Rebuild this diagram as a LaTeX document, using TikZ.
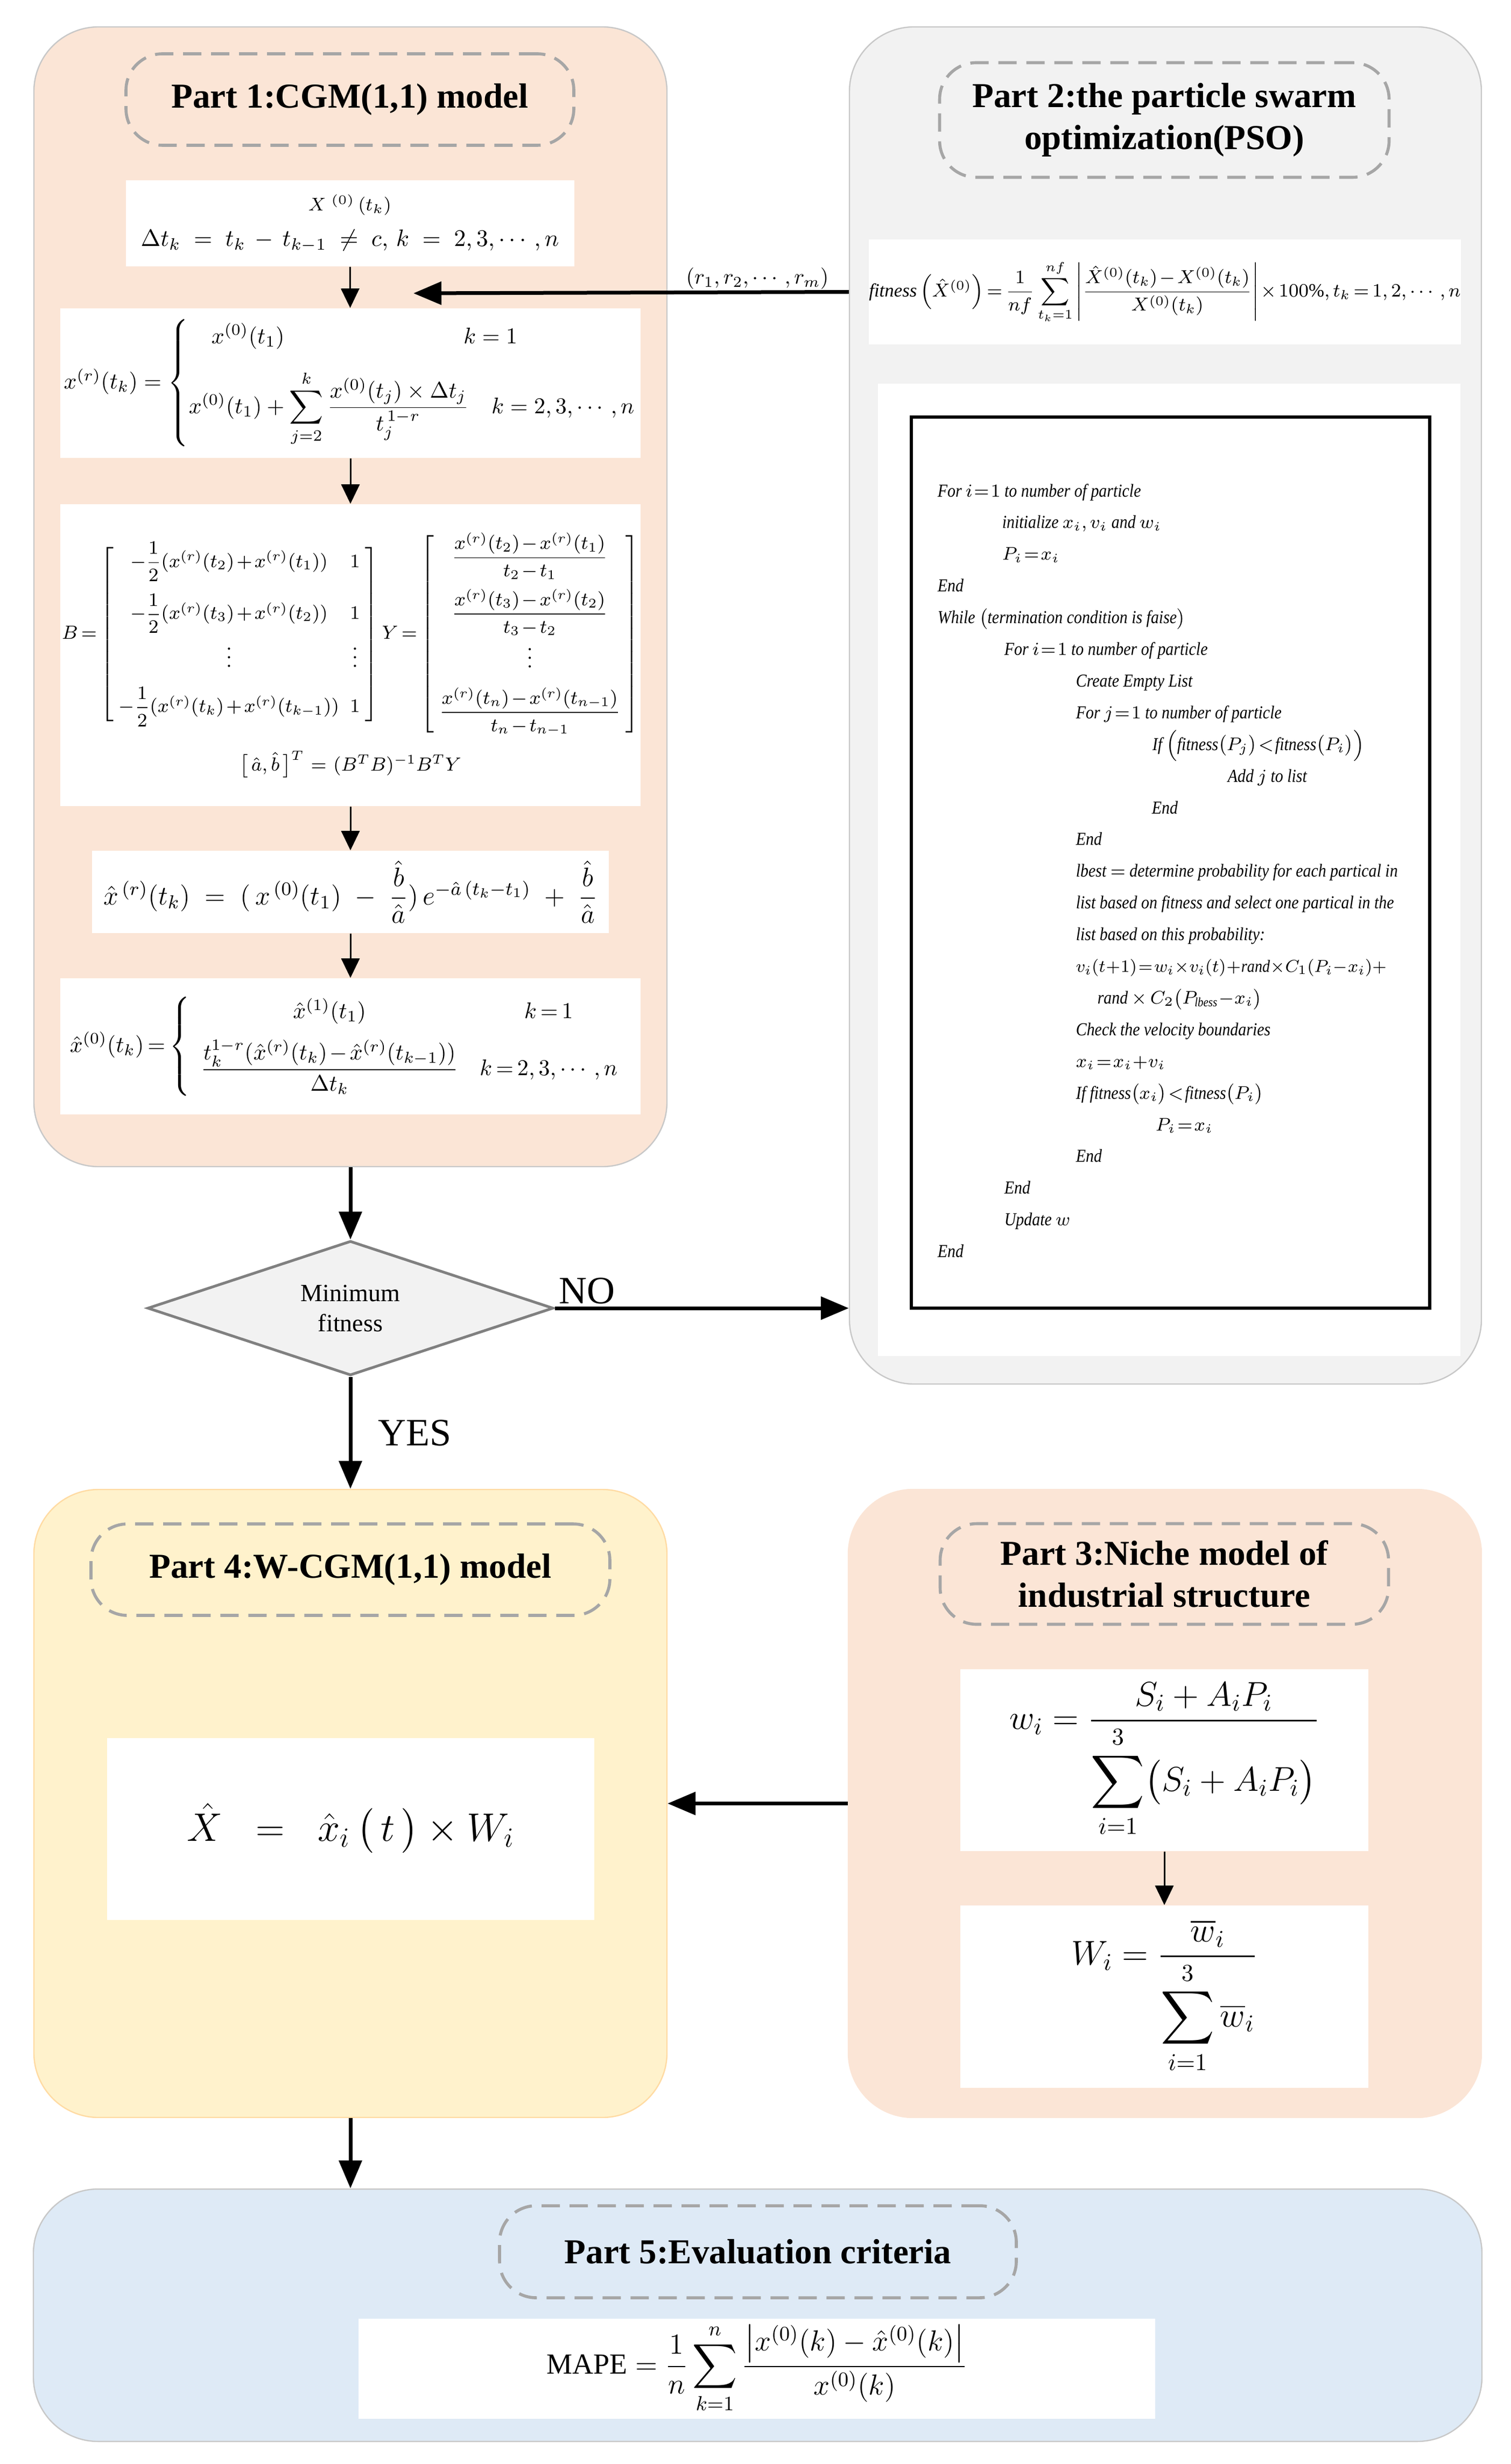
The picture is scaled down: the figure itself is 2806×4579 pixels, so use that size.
\documentclass[tikz,border=0pt]{standalone}
\usepackage{fix-cm}
\usepackage{amsmath}
\usepackage{fontspec}
\setmainfont{Liberation Serif}
\newfontfamily\codefont[FakeStretch=0.88]{Liberation Serif}
\usetikzlibrary{shapes.geometric,arrows.meta}

\definecolor{peach}{HTML}{FBE5D6}
\definecolor{panelgray}{HTML}{F2F2F2}
\definecolor{paleyellow}{HTML}{FFF2CC}
\definecolor{paleblue}{HTML}{DEEAF6}
\definecolor{dashgray}{HTML}{A6A6A6}
\definecolor{edgegray}{HTML}{C8C8C8}
\definecolor{diamondgray}{HTML}{808080}
\newcommand{\tightmath}{\medmuskip=2mu\relax\thickmuskip=3mu\relax}
\newcommand{\codemath}{\medmuskip=0.5mu\relax\thickmuskip=1.5mu\relax}

\begin{document}
\begin{tikzpicture}[x=0.25pt,y=-0.25pt,
            panel/.style={rectangle,rounded corners=30pt,draw=edgegray,line width=0.6pt,fill=#1},
            title box/.style={rectangle,rounded corners=17pt,draw=dashgray,line width=1.4pt,dash pattern=on 8.5pt off 4.5pt,align=center,font=\fontsize{16.25}{19.5}\selectfont\bfseries},
            formula box/.style={rectangle,fill=white,inner sep=0pt,align=center},
            code line/.style={anchor=base west,inner sep=0pt,font=\fontsize{8.5}{10}\selectfont\codefont\itshape\codemath},
            decision/.style={diamond,aspect=3.016,draw=diamondgray,line width=1.25pt,fill=panelgray,inner sep=0pt,minimum width=188.5pt,minimum height=62.5pt,align=center,font=\fontsize{11.5}{14}\selectfont},
            flow label/.style={inner sep=1pt,font=\fontsize{18}{21}\selectfont},
            big arrow/.style={->,>={Triangle[length=13pt,width=10.5pt]},line width=1.75pt},
            small arrow/.style={->,>={Triangle[length=9pt,width=8.5pt]},line width=0.75pt}]
            \useasboundingbox (0,0) rectangle (2806,4579);

            % the five parts
            \node[panel=peach, minimum width=294pt, minimum height=529.5pt] (p1) at (651,1109) {};
            \node[panel=panelgray, minimum width=293.5pt, minimum height=630.5pt] (p2) at (2165,1311) {};
            \node[panel=paleyellow, draw=paleyellow!80!orange, minimum width=294pt, minimum height=291.75pt] (p4) at (651,3351.5) {};
            \node[panel=peach, draw=peach, minimum width=294pt, minimum height=291.75pt] (p3) at (2164,3351.5) {};
            \node[panel=paleblue, minimum width=672.75pt, minimum height=117.25pt] (p5) at (1407.5,4302.5) {};

            \node[title box, minimum width=208pt, minimum height=42.5pt] (t1) at (650,185) {Part 1:CGM(1,1) model};
            \node[title box, minimum width=208.75pt, minimum height=53.25pt] (t2) at (2163,223) {Part 2:the particle swarm\\optimization(PSO)};
            \node[title box, minimum width=208.25pt, minimum height=46.75pt] (t3) at (2163,2925) {Part 3:Niche model of\\industrial structure};
            \node[title box, minimum width=241pt, minimum height=42.5pt] (t4) at (651,2917) {Part 4:W-CGM(1,1) model};
            \node[title box, minimum width=240pt, minimum height=42.75pt] (t5) at (1408,4184.5) {Part 5:Evaluation criteria};

            % part 1
            \node[formula box, minimum width=208.25pt, minimum height=40pt, font=\fontsize{11}{16.5}\selectfont] (f1) at (650,415)
                {{\fontsize{8.5}{10}\selectfont$X^{\;(0)}\,(t_k)$}\\
                 $\Delta t_k \;=\; t_k \,-\, t_{k-1} \;\neq\; c,\, k \;=\; 2,3,\cdots,n$};
            \node[formula box, minimum width=269.5pt, minimum height=69.5pt, font=\fontsize{10.5}{13}\selectfont] (f2) at (651,712)
                {$x^{(r)}(t_k)=\begin{cases} \quad x^{(0)}(t_1) & \hspace{-13pt}k=1\\[8pt]
                 x^{(0)}(t_1)+\displaystyle\sum_{j=2}^{k}\frac{x^{(0)}(t_j)\times\Delta t_j}{t_j^{\,1-r}} & k=2,3,\cdots,n\end{cases}$};
            \node[formula box, minimum width=269.5pt, minimum height=140.25pt, font=\fontsize{8.8}{11}\selectfont\tightmath] (f3) at (651,1217.5)
                {\arraycolsep=2.5pt
                 $B=\left[\begin{array}{cc}
                 -\dfrac{1}{2}(x^{(r)}(t_2)+x^{(r)}(t_1)) & 1\\[9pt]
                 -\dfrac{1}{2}(x^{(r)}(t_3)+x^{(r)}(t_2)) & 1\\[4pt]
                 \vdots & \vdots\\[6pt]
                 -\dfrac{1}{2}(x^{(r)}(t_k)+x^{(r)}(t_{k-1})) & 1
                 \end{array}\right]
                 Y=\left[\begin{array}{c}
                 \dfrac{x^{(r)}(t_2)-x^{(r)}(t_1)}{t_2-t_1}\\[9pt]
                 \dfrac{x^{(r)}(t_3)-x^{(r)}(t_2)}{t_3-t_2}\\[4pt]
                 \vdots\\[6pt]
                 \dfrac{x^{(r)}(t_n)-x^{(r)}(t_{n-1})}{t_n-t_{n-1}}
                 \end{array}\right]$\\[6pt]
                 $\bigl[\,\hat a,\hat b\,\bigr]^T\;=\;(B^T B)^{-1}B^T Y$};
            \node[formula box, minimum width=240pt, minimum height=38.25pt, font=\fontsize{12.5}{15}\selectfont] (f4) at (651,1657.5)
                {$\hat x^{\,(r)}(t_k)\;=\;(\,x^{\,(0)}(t_1)\;-\;\dfrac{\hat b}{\hat a})\,e^{-\hat a\,(t_k-t_1)}\;+\;\dfrac{\hat b}{\hat a}$};
            \node[formula box, minimum width=269.5pt, minimum height=63.25pt, font=\fontsize{10.5}{13}\selectfont\tightmath] (f5) at (651,1944.5)
                {$\hat x^{(0)}(t_k)=\left\{\begin{array}{cc} \hat x^{(1)}(t_1) & k=1\\[6pt]
                 \dfrac{t_k^{1-r}(\hat x^{(r)}(t_k)-\hat x^{(r)}(t_{k-1}))}{\Delta t_k} & k=2,3,\cdots,n\end{array}\right.$};

            % part 2
            \node[formula box, minimum width=269.5pt, minimum height=48.75pt, font=\fontsize{8.7}{10}\selectfont\tightmath] (fit) at (2164,542.5)
                {$\mathit{fitness}\left(\hat X^{(0)}\right)=\dfrac{1}{nf}\displaystyle\sum_{t_k=1}^{nf}\left|\dfrac{\hat X^{(0)}(t_k)-X^{(0)}(t_k)}{X^{(0)}(t_k)}\right|\times 100\%,t_k=1,2,\cdots,n$};
            \node[formula box, minimum width=270.5pt, minimum height=451.75pt] (code) at (2172,1616.5) {};
            \node[draw, line width=1.5pt, inner sep=0pt, minimum width=240.75pt, minimum height=414pt] (frame) at (2174.5,1603) {};
            \foreach \ind/\txt [count=\n] in {
                0/{For $i=1$ to number of particle},
                120/{initialize $x_i, v_i$ and $w_i$},
                120/{$P_i=x_i$},
                0/{End},
                0/{While $\bigl($termination condition is faise$\bigr)$},
                124/{For $i=1$ to number of particle},
                257/{Create Empty List},
                257/{For $j=1$ to number of particle},
                399/{If $\Bigl(\text{fitness}\bigl(P_j\bigr)<\text{fitness}\bigl(P_i\bigr)\Bigr)$},
                539/{Add $j$ to list},
                398/{End},
                257/{End},
                257/{lbest $=$ determine probability for each partical in},
                257/{list based on fitness and select one partical in the},
                257/{list based on this probability:},
                257/{{\fontsize{8}{10}\selectfont$v_i(t+1)=w_i\times v_i(t)+\text{rand}\times C_1(P_i-x_i)+$}},
                297/{rand $\times\, C_2\bigl(P_{\text{lbess}}-x_i\bigr)$},
                257/{Check the velocity boundaries},
                257/{$x_i=x_i+v_i$},
                257/{If fitness$\bigl(x_i\bigr)<{}$fitness$\bigl(P_i\bigr)$},
                405/{$P_i=x_i$},
                257/{End},
                124/{End},
                124/{Update $w$},
                0/{End}}
                \node[code line] (line\n) at ({1741+\ind},{923+58.9*(\n-1)}) {\txt};

            % decision
            \node[decision] (dec) at (651,2431) {Minimum\\fitness};

            % part 4, part 3, part 5
            \node[formula box, minimum width=226.25pt, minimum height=84.5pt, font=\fontsize{18.5}{22}\selectfont] (f6) at (651.5,3399)
                {$\hat X\;\;=\;\;\hat x_i\,\bigl(\,t\,\bigr)\times W_i$};
            \node[formula box, minimum width=189.5pt, minimum height=84.5pt, font=\fontsize{16}{19}\selectfont] (fw) at (2163,3271)
                {$w_i=\dfrac{S_i+A_iP_i}{\displaystyle\sum_{i=1}^{3}\bigl(S_i+A_iP_i\bigr)}$};
            \node[formula box, minimum width=189.5pt, minimum height=84.75pt, font=\fontsize{16}{19}\selectfont] (fW) at (2163,3710.5)
                {$W_i=\dfrac{\overline{w}_i}{\displaystyle\sum_{i=1}^{3}\overline{w}_i}$};
            \node[formula box, minimum width=370pt, minimum height=46.5pt, font=\fontsize{13.5}{16}\selectfont] (fm) at (1406,4402)
                {$\mathrm{MAPE}=\dfrac{1}{n}\displaystyle\sum_{k=1}^{n}\dfrac{\bigl|x^{(0)}(k)-\hat x^{(0)}(k)\bigr|}{x^{(0)}(k)}$};

            \coordinate (p2in) at (p2.west |- fit.west);
            \coordinate (rin) at (768,545);
            \coordinate (noin) at (dec.east -| p2.west);
            \coordinate (p5in) at (p4.south |- p5.north);

            \path[big arrow]
                (p2in) edge node[pos=0.21, above, inner sep=0.5pt, font=\fontsize{10}{12}\selectfont] {$\left(r_1,r_2,\cdots,r_m\right)$} (rin)
                (p1) edge (dec)
                (dec.east) edge node[pos=0, anchor=south west, flow label] {NO} (noin)
                (dec) edge node[midway, right, xshift=11pt, flow label] {YES} (p4)
                (p3) edge (p4)
                (p4) edge (p5in)
                ;
            \path[small arrow]
                (f1) edge (f2)
                (f2) edge (f3)
                (f3) edge (f4)
                (f4) edge (f5)
                (fw) edge (fW)
                ;
        \end{tikzpicture}
\end{document}
